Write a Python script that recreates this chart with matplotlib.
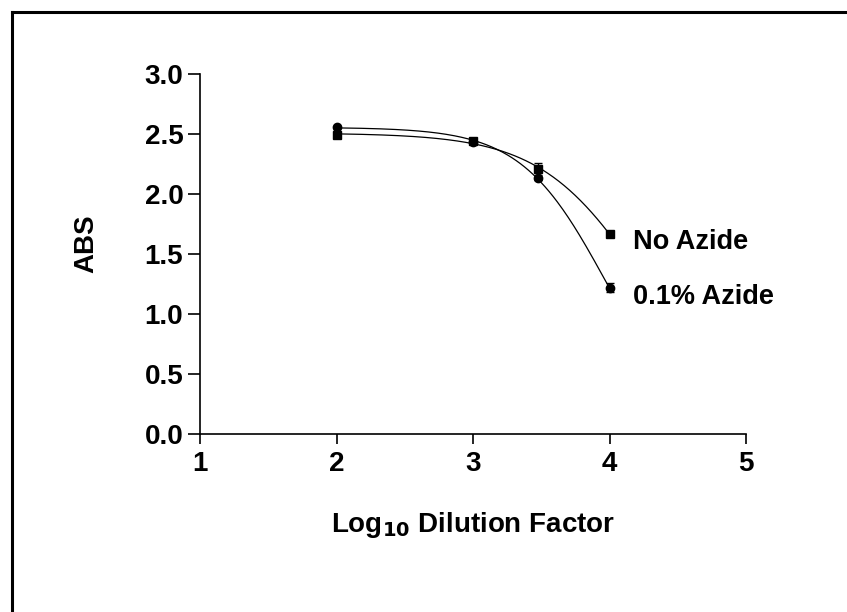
import numpy as np
import matplotlib
matplotlib.use("Agg")
import matplotlib.pyplot as plt
from matplotlib.lines import Line2D

plt.rcParams['font.family'] = ['Liberation Sans', 'DejaVu Sans']
plt.rcParams['font.weight'] = 'bold'

# datos
log_dil = np.array([2.0, 3.0, 3.477, 4.0])
no_azide = np.array([2.49, 2.44, 2.21, 1.67])
no_azide_err = np.array([0.01, 0.02, 0.05, 0.01])
azide = np.array([2.56, 2.43, 2.13, 1.22])
azide_err = np.array([0.01, 0.01, 0.01, 0.04])
labels = ["No Azide", "0.1% Azide"]


def sigmoid(x, c, h):
    return 1.0 / (1.0 + 10 ** ((x - c) * h))


def fit_curve(x, y):
    # ajuste sigmoide simple (fondo = 0) por busqueda en rejilla
    best = None
    for c in np.linspace(3.5, 6.0, 251):
        for h in np.linspace(0.3, 3.0, 136):
            s = sigmoid(x, c, h)
            top = np.dot(s, y) / np.dot(s, s)
            err = np.sum((top * s - y) ** 2)
            if best is None or err < best[0]:
                best = (err, top, c, h)
    return best[1:]


fig = plt.figure(figsize=(8.47, 6.12), dpi=100)
ax = fig.add_axes([200 / 847, 1 - 434 / 612, 546 / 847, 360 / 612])

xs = np.linspace(2, 4, 200)
for y, err, mk in [(no_azide, no_azide_err, 's'), (azide, azide_err, 'o')]:
    top, c, h = fit_curve(log_dil, y)
    ax.plot(xs, top * sigmoid(xs, c, h), color='black', lw=0.9)
    ax.errorbar(log_dil, y, yerr=err, fmt=mk, color='black', ms=6,
                elinewidth=1.0, capsize=3, capthick=1.0)

ax.text(4.17, no_azide[-1] - 0.07, labels[0], fontsize=19.5, fontweight='bold', va='center')
ax.text(4.17, azide[-1] - 0.08, labels[1], fontsize=19.5, fontweight='bold', va='center')

ax.set_xlim(1, 5)
ax.set_ylim(0, 3)
ax.set_xticks([1, 2, 3, 4, 5])
ax.set_yticks(np.arange(0, 3.01, 0.5))
ax.set_yticklabels([f"{v:.1f}" for v in np.arange(0, 3.01, 0.5)])
for s in ['top', 'right']:
    ax.spines[s].set_visible(False)
for s in ['left', 'bottom']:
    ax.spines[s].set_linewidth(1.2)
ax.tick_params(axis='y', length=9, width=1.2, labelsize=20, pad=3)
ax.tick_params(axis='x', length=7, width=1.2, labelsize=20, pad=5)
for lab in ax.get_xticklabels() + ax.get_yticklabels():
    lab.set_fontweight('bold')

ax.set_xlabel(r"Log$_{\mathbf{10}}$ Dilution Factor", fontsize=20, fontweight='bold')
ax.xaxis.set_label_coords(0.5, -0.21)
ax.set_ylabel("ABS", fontsize=20, fontweight='bold')
ax.yaxis.set_label_coords(-0.185, 0.53)

# marco superior e izquierdo
fig.add_artist(Line2D([12 / 847, 12 / 847], [0, 1 - 12 / 612], color='black', lw=2.2))
fig.add_artist(Line2D([12 / 847, 1], [1 - 12 / 612, 1 - 12 / 612], color='black', lw=2.2))

fig.savefig("out.png", dpi=100)
